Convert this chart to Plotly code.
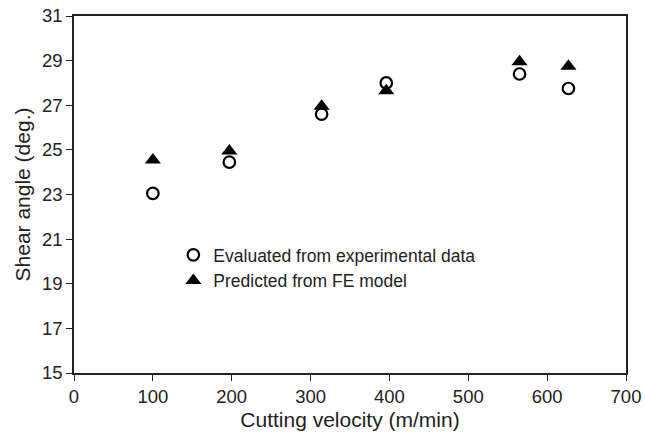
import plotly.graph_objects as go

velocity = [100, 197, 314, 396, 565, 627]
shear_experimental = [23.05, 24.45, 26.6, 28.0, 28.4, 27.75]
shear_fe_model = [24.55, 24.95, 26.95, 27.65, 28.95, 28.75]

x_ticks = [0, 100, 200, 300, 400, 500, 600, 700]
y_ticks = [15, 17, 19, 21, 23, 25, 27, 29, 31]

font_family = "Liberation Sans, Arial, sans-serif"

fig = go.Figure()
fig.add_trace(go.Scatter(
    x=velocity, y=shear_experimental, mode="markers",
    name="Evaluated from experimental data",
    marker=dict(symbol="circle-open", size=11.5, color="black", line=dict(width=2.2, color="black")),
))
fig.add_trace(go.Scatter(
    x=velocity, y=shear_fe_model, mode="markers",
    name="Predicted from FE model",
    marker=dict(symbol="triangle-up", size=14, color="black", line=dict(width=0)),
))

axis_common = dict(
    showgrid=False, zeroline=False, showline=True, linecolor="#222", linewidth=1.5,
    mirror=True, ticks="outside", ticklen=6, tickwidth=1.2, tickcolor="#222",
    tickfont=dict(size=18.5, color="#222", family=font_family),
    automargin=False,
)

fig.update_layout(
    width=645, height=434,
    margin=dict(l=74, r=19, t=16, b=61),
    paper_bgcolor="white", plot_bgcolor="white",
    font=dict(family=font_family, color="#222"),
    showlegend=True,
    legend=dict(
        x=0.18, y=0.381, xanchor="left", yanchor="top",
        bgcolor="rgba(0,0,0,0)", borderwidth=0,
        font=dict(size=17.5, color="#222", family=font_family),
        itemwidth=30,
    ),
    xaxis=dict(
        range=[0, 700], tickvals=x_ticks,
        title=dict(text="Cutting velocity (m/min)", font=dict(size=21, family=font_family), standoff=6),
        **axis_common,
    ),
    yaxis=dict(
        range=[15, 31], tickvals=y_ticks,
        title=dict(text="Shear angle (deg.)", font=dict(size=21, family=font_family), standoff=6),
        **axis_common,
    ),
)

fig.write_html("out.html")
